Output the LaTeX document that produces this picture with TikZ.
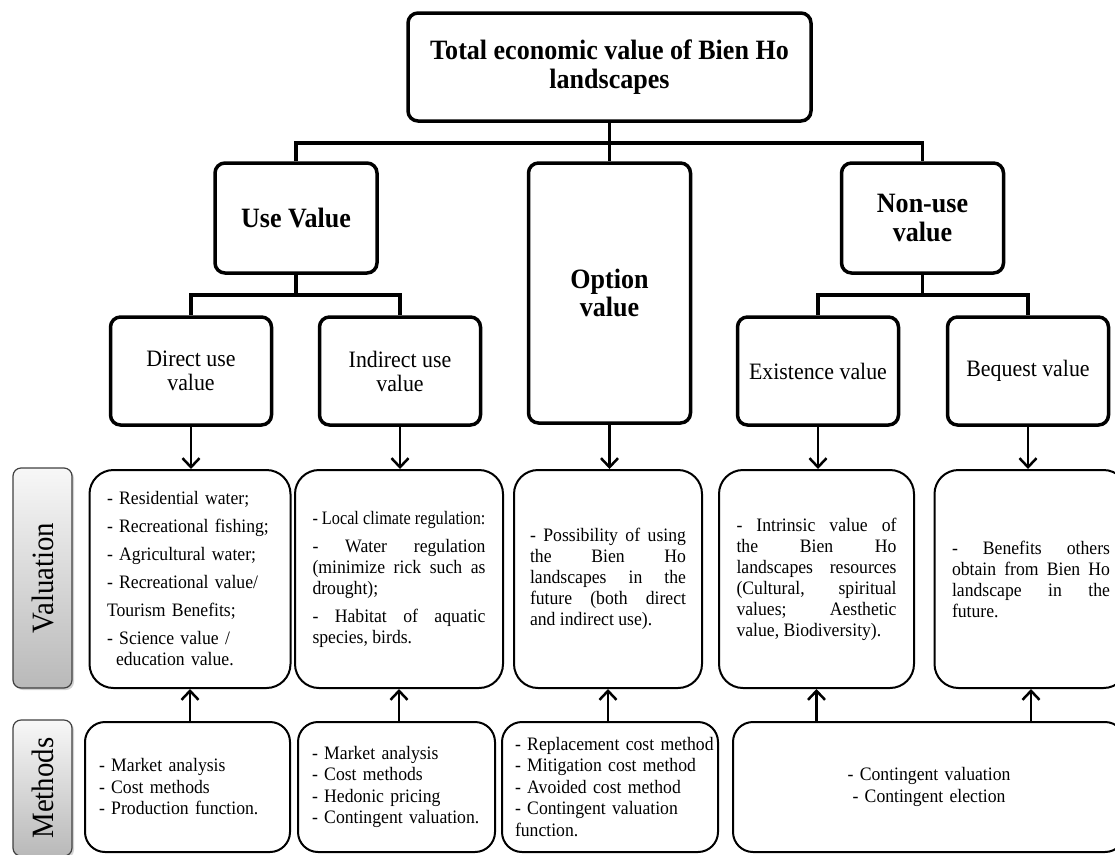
\documentclass[tikz,border=0pt]{standalone}
\usepackage{fontspec}
\setmainfont{Liberation Serif}[FakeStretch=0.93]
\usetikzlibrary{arrows.meta,shadows}
\hyphenpenalty=10000
\exhyphenpenalty=10000
\tolerance=10000
\hbadness=10000
\hfuzz=20pt

\begin{document}
\begin{tikzpicture}[
      x=1pt, y=-1pt,
      headbox/.style={draw, line width=3.5pt, rounded corners=10pt, align=center, inner sep=0pt,
        minimum width=162pt, font=\fontsize{28}{28.5}\selectfont\bfseries},
      subbox/.style={draw, line width=3.5pt, rounded corners=10pt, align=center, inner sep=0pt,
        minimum width=161pt, minimum height=108pt, font=\fontsize{23.5}{24}\selectfont},
      valbox/.style={draw, line width=2pt, rounded corners=24pt, minimum height=218pt,
        inner xsep=17.5pt, inner ysep=0pt, font=\fontsize{19}{21}\selectfont},
      methbox/.style={draw, line width=2pt, rounded corners=20pt, minimum height=130pt,
        inner xsep=14pt, inner ysep=0pt, align=left, font=\fontsize{19}{21.5}\selectfont},
      sidebox/.style={draw=black!75, line width=1.2pt, rounded corners=8pt, inner sep=0pt,
        top color=gray!6, bottom color=gray!55, minimum width=59pt,
        drop shadow={opacity=0.35, shadow xshift=2pt, shadow yshift=-2pt},
        font=\fontsize{31}{32}\selectfont},
      link/.style={line width=3.5pt},
      arr/.style={line width=2.5pt, -{Straight Barb[length=9pt, width=17pt]}}
    ]

    \useasboundingbox (0,0) rectangle (1115,854);

    % ---- gap between the points of a list ----
    \def\valgap{\par\vspace{7pt}}

    % ---- levels of the bars ----
    \coordinate (topbar) at (0,143);
    \coordinate (usebar) at (0,295);
    \coordinate (nonbar) at (0,295);

    % ================= TREE =================
    \node[headbox, minimum width=403pt, minimum height=108pt] (total) at (609.5,67)
      {Total economic value of Bien Ho\\landscapes};

    \node[headbox, minimum height=110pt] (use)    at (296,218)   {Use Value};
    \node[headbox, minimum height=260pt] (option) at (609.5,293) {Option\\value};
    \node[headbox, minimum height=110pt] (nonuse) at (922.5,218) {Non-use\\value};

    \node[subbox] (direct)   at (191,371)  {Direct use\\value};
    \node[subbox] (indirect) at (400,371)  {Indirect use\\value};
    \node[subbox] (exist)    at (818,371)  {Existence value};
    \node[subbox] (bequest)  at (1028,371) {Bequest value};

    \draw[link] (total.south) -- (total.south |- option.north);
    \draw[link] (use.north) -- (use.north |- topbar) -- (nonuse.north |- topbar) -- (nonuse.north);
    \draw[link] (use.south) -- (use.south |- usebar);
    \draw[link] (direct.north) -- (direct.north |- usebar) -- (indirect.north |- usebar) -- (indirect.north);
    \draw[link] (nonuse.south) -- (nonuse.south |- nonbar);
    \draw[link] (exist.north) -- (exist.north |- nonbar) -- (bequest.north |- nonbar) -- (bequest.north);

    % ================= VALUATION ROW =================
    \node[sidebox, minimum height=220pt] (vlabel) at (42.5,578) {\rotatebox{90}{Valuation}};

    \node[valbox, text width=166pt, align=left] (vdirect) at (190,579)
      {- Residential water;\valgap
       - Recreational fishing;\valgap
       - Agricultural water;\valgap
       - Recreational value/\valgap
       Tourism Benefits;\valgap
       - Science value /\\\hspace*{9pt}education value.};
    \node[valbox, text width=173pt, align=justify] (vindirect) at (399,579)
      {\scalebox{0.92}[1]{- Local climate regulation:}\valgap
       - Water regulation\linebreak (minimize rick such as\linebreak drought);\valgap
       - Habitat of aquatic\linebreak species, birds.};
    \node[valbox, inner xsep=16pt, text width=156pt, align=justify] (voption) at (608,579)
      {- Possibility of using\linebreak the Bien Ho\linebreak landscapes in the\linebreak
       future (both direct\linebreak and indirect use).};
    \node[valbox, text width=160pt, align=justify] (vexist) at (816.5,579)
      {- Intrinsic value of\linebreak the Bien Ho\linebreak landscapes resources\linebreak
       (Cultural, spiritual\linebreak values; Aesthetic\linebreak value, Biodiversity).};
    \node[valbox, text width=158pt, align=justify] (vbequest) at (1031,579)
      {- Benefits others\linebreak obtain from Bien Ho\linebreak landscape in the\linebreak future.};

    \draw[arr] (direct.south) -- (direct.south |- vdirect.north);
    \draw[arr] (indirect.south) -- (indirect.south |- vindirect.north);
    \draw[arr] (option.south) -- (option.south |- voption.north);
    \draw[arr] (exist.south) -- (exist.south |- vexist.north);
    \draw[arr] (bequest.south) -- (bequest.south |- vbequest.north);

    % ================= METHODS ROW =================
    \node[sidebox, minimum height=136pt] (mlabel) at (42.5,788) {\rotatebox{90}{Methods}};

    \node[methbox, text width=177pt] (mdirect) at (187.5,787)
      {- Market analysis\\- Cost methods\\- Production function.};
    \node[methbox, text width=169pt] (mindirect) at (396.5,787)
      {- Market analysis\\- Cost methods\\- Hedonic pricing\\- Contingent valuation.};
    \node[methbox, inner xsep=13pt, text width=190pt] (moption) at (610,787)
      {\mbox{- Replacement cost method}\\- Mitigation cost method\\- Avoided cost method\\- Contingent valuation\\function.};
    \node[methbox, text width=364pt, align=center] (mnonuse) at (929,787)
      {- Contingent valuation\\- Contingent election};

    \draw[arr] (vdirect.south |- mdirect.north) -- (vdirect.south);
    \draw[arr] (vindirect.south |- mindirect.north) -- (vindirect.south);
    \draw[arr] (voption.south |- moption.north) -- (voption.south);
    \draw[arr] (vexist.south |- mnonuse.north) -- (vexist.south);
    \draw[arr] (vbequest.south |- mnonuse.north) -- (vbequest.south);

    \end{tikzpicture}
\end{document}
